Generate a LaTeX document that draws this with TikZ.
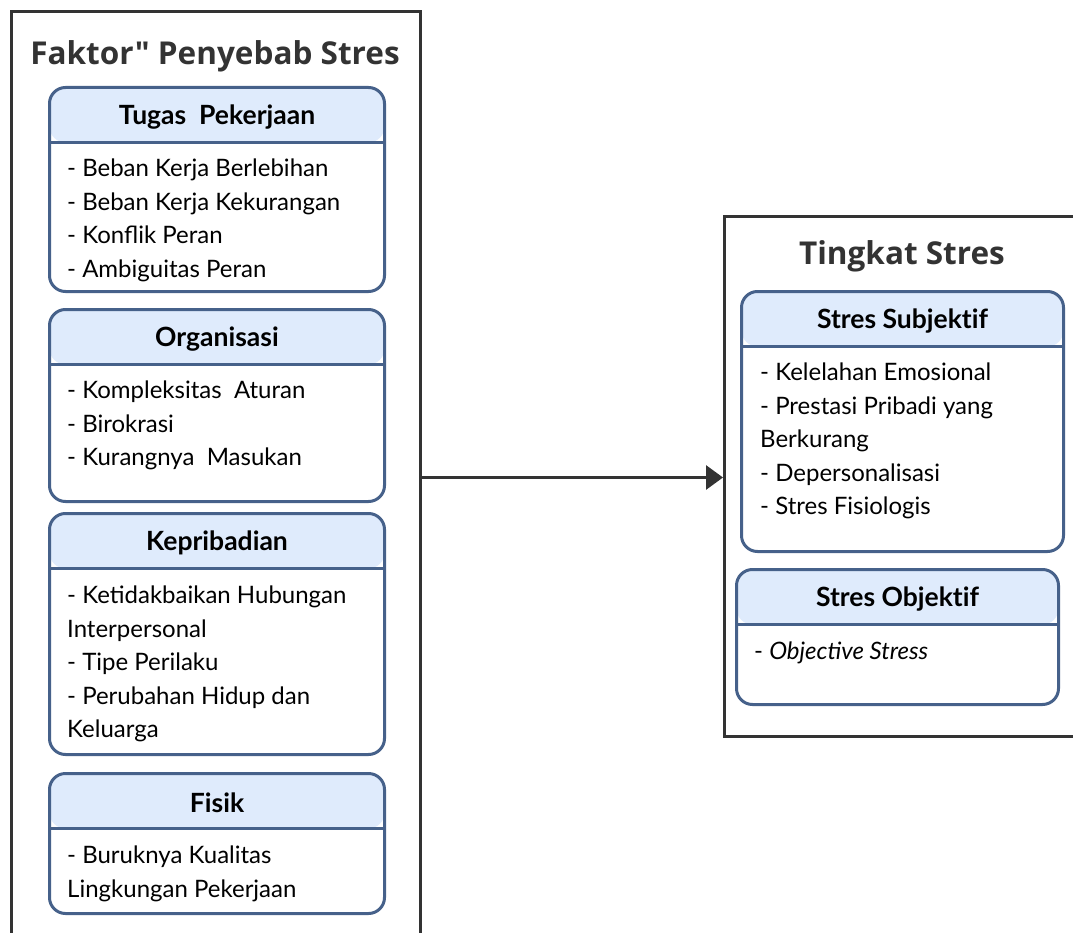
\documentclass[tikz,border=0pt]{standalone}
\usepackage{fontspec}
\setmainfont{Lato}
\newfontfamily\titlefont{Open Sans}
\usetikzlibrary{arrows.meta,positioning}

\definecolor{framegray}{HTML}{333333}
\definecolor{cardline}{HTML}{46618A}
\definecolor{cardhead}{HTML}{DFEBFC}

\tikzset{
  frame/.style={draw=framegray, line width=3pt, anchor=north west, inner sep=0pt},
  card/.style={draw=cardline, line width=3pt, rounded corners=16pt, fill=white,
    anchor=north west, inner sep=0pt, minimum width=335pt,
    path picture={
      \fill[cardhead] (path picture bounding box.north west) rectangle
        ([yshift=-55pt]path picture bounding box.north east);
      \draw[cardline, line width=3pt] ([yshift=-55pt]path picture bounding box.north west)
        -- ([yshift=-55pt]path picture bounding box.north east);
    }},
  cardtitle/.style={font=\fontsize{26.5}{30}\selectfont\bfseries\addfontfeature{Ligatures=NoCommon}},
  cardbody/.style={font=\fontsize{24}{33.5}\selectfont, align=left,
    anchor=north west, inner sep=0pt},
  heading/.style={font=\titlefont\fontsize{31.5}{36}\selectfont\bfseries, text=framegray},
  flow/.style={draw=framegray, line width=3pt, -{Triangle[length=17pt,width=24pt]}}
}

\begin{document}
\begin{tikzpicture}[x=1pt,y=-1pt]
  \clip (0,0) rectangle (1073,933);

  % outer frames
  \node[frame, minimum width=409pt, minimum height=932pt] (penyebab) at (10,10) {};
  \node[frame, minimum width=400pt, minimum height=520pt] (tingkat) at (723,215) {};
  \node[heading] (penyebab-title) at (215,56) {Faktor" Penyebab Stres};
  \node[heading] (tingkat-title) at (902,256) {Tingkat Stres};

  % factor cards
  \node[card, minimum height=204pt] (tugas) at (48,86) {};
  \node[cardtitle] (tugas-title) at ([yshift=-31pt]tugas.north) {Tugas~~Pekerjaan};
  \node[cardbody] (tugas-body) at ([xshift=19pt,yshift=-73pt]tugas.north west)
    {- Beban Kerja Berlebihan\\- Beban Kerja Kekurangan\\- Konflik Peran\\- Ambiguitas Peran};

  \node[card, minimum height=192pt] (organisasi) at (48,308) {};
  \node[cardtitle] (organisasi-title) at ([yshift=-31pt]organisasi.north) {Organisasi};
  \node[cardbody] (organisasi-body) at ([xshift=19pt,yshift=-73pt]organisasi.north west)
    {- Kompleksitas~~Aturan\\- Birokrasi\\- Kurangnya~~Masukan};

  \node[card, minimum height=241pt] (kepribadian) at (48,512) {};
  \node[cardtitle] (kepribadian-title) at ([yshift=-31pt]kepribadian.north) {Kepribadian};
  \node[cardbody] (kepribadian-body) at ([xshift=19pt,yshift=-74pt]kepribadian.north west)
    {- Ketidakbaikan Hubungan\\Interpersonal\\- Tipe Perilaku\\- Perubahan Hidup dan\\Keluarga};

  \node[card, minimum height=140pt] (fisik) at (48,772) {};
  \node[cardtitle] (fisik-title) at ([yshift=-31pt]fisik.north) {Fisik};
  \node[cardbody] (fisik-body) at ([xshift=19pt,yshift=-74pt]fisik.north west)
    {- Buruknya Kualitas\\Lingkungan Pekerjaan};

  % level cards
  \node[card, minimum width=322pt, minimum height=260pt] (subjektif) at (740,290) {};
  \node[cardtitle] (subjektif-title) at ([yshift=-31pt]subjektif.north) {Stres Subjektif};
  \node[cardbody] (subjektif-body) at ([xshift=20pt,yshift=-73pt]subjektif.north west)
    {- Kelelahan Emosional\\- Prestasi Pribadi yang\\Berkurang\\- Depersonalisasi\\- Stres Fisiologis};

  \node[card, minimum width=322pt, minimum height=135pt] (objektif) at (735,568) {};
  \node[cardtitle] (objektif-title) at ([yshift=-31pt]objektif.north) {Stres Objektif};
  \node[cardbody] (objektif-body) at ([xshift=19pt,yshift=-74pt]objektif.north west)
    {- \textit{Objective Stress}};

  \draw[flow] (penyebab.east) -- (penyebab.east -| tingkat.west);
\end{tikzpicture}
\end{document}
